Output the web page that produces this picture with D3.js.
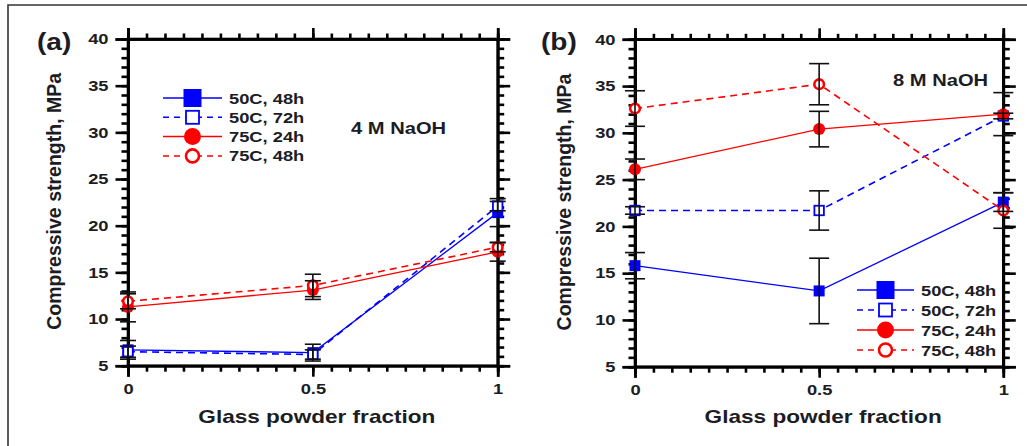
<!DOCTYPE html>
<html lang="en">
<head>
    <meta charset="UTF-8">
    <title>Compressive strength vs glass powder fraction</title>
    <style>
        body { margin: 0; background: #fff; }
        svg { display: block; }
        text { font-family: "Liberation Sans", Arial, sans-serif; font-weight: bold; fill: #1c1c24; }
        .axis path, .axis line { stroke: #000; stroke-width: 2.6; }
    </style>
</head>
<body>
    <svg id="chart" width="1027" height="446"></svg>

    <script src="https://d3js.org/d3.v7.min.js"></script>
    <script>
        // x values shared by all series
        const glassFraction = [0, 0.5, 1];
        const seriesNames = ["50C, 48h", "50C, 72h", "75C, 24h", "75C, 48h"];
        const yTickValues = [5, 10, 15, 20, 25, 30, 35, 40];
        const xTickValues = [0, 0.5, 1];

        // panel (a): 4 M NaOH
        const a_50C_48h = [6.7, 6.4, 21.4];
        const a_50C_72h = [6.5, 6.2, 22.1];
        const a_75C_24h = [11.3, 13.1, 17.2];
        const a_75C_48h = [11.9, 13.6, 17.7];
        const a_50C_48h_err = [1.0, 0.9, 1.5];
        const a_50C_72h_err = [0.6, 0.5, 0.5];
        const a_75C_24h_err = [1.6, 1.0, 1.0];
        const a_75C_48h_err = [0.8, 1.2, 0.5];

        // panel (b): 8 M NaOH
        const b_50C_48h = [15.8, 13.1, 22.6];
        const b_50C_72h = [21.7, 21.7, 31.8];
        const b_75C_24h = [26.1, 30.4, 32.0];
        const b_75C_48h = [32.6, 35.2, 21.7];
        const b_50C_48h_err = [1.4, 3.5, 1.0];
        const b_50C_72h_err = [0.4, 2.1, 0.3];
        const b_75C_24h_err = [1.1, 1.9, 2.3];
        const b_75C_48h_err = [1.9, 2.2, 1.9];

        const svg = d3.select("#chart");

        // outer frame (only left and top edges are inside the picture)
        svg.append("path")
            .attr("d", "M8,446 L8,5 L1027,5")
            .attr("fill", "none")
            .attr("stroke", "#333")
            .attr("stroke-width", 1.6);

        // style per series: colour, dashed, marker kind
        const styles = [
            { color: "#0000ff", dash: null, marker: "square", filled: true },
            { color: "#0000ff", dash: "7,5", marker: "square", filled: false },
            { color: "#ff0000", dash: null, marker: "circle", filled: true },
            { color: "#ff0000", dash: "7,5", marker: "circle", filled: false }
        ];

        function drawMarker(g, style, cx, cy, big) {
            if (style.marker === "square") {
                const s = style.filled ? (big ? 18 : 11) : (big ? 13 : 9.5);
                g.append("rect")
                    .attr("x", cx - s / 2).attr("y", cy - s / 2)
                    .attr("width", s).attr("height", s)
                    .attr("fill", style.filled ? style.color : "#fff")
                    .attr("stroke", style.color)
                    .attr("stroke-width", style.filled ? 0 : 1.8);
            } else {
                const r = style.filled ? (big ? 8.5 : 6) : (big ? 6.5 : 4.8);
                g.append("circle")
                    .attr("cx", cx).attr("cy", cy).attr("r", r)
                    .attr("fill", style.filled ? style.color : "#fff")
                    .attr("stroke", style.color)
                    .attr("stroke-width", style.filled ? 0 : 2.6);
            }
        }

        function drawPanel(p) {
            const g = svg.append("g").attr("transform", `translate(${p.left},${p.top})`);
            const x = d3.scaleLinear().domain([0, 1]).range([0, p.width]);
            const y = d3.scaleLinear().domain([5, 40]).range([p.height, 0]);
            const minorX = d3.range(0, 1.0001, 0.05);
            const minorY = d3.range(5, 40.001, 1);

            // minor ticks first, then major ticks with labels
            g.append("g").attr("class", "axis").call(d3.axisLeft(y).tickValues(minorY).tickSize(6.5).tickFormat(""));
            g.append("g").attr("class", "axis").attr("transform", `translate(${p.width},0)`)
                .call(d3.axisRight(y).tickValues(minorY).tickSize(6.5).tickFormat(""));
            g.append("g").attr("class", "axis").call(d3.axisTop(x).tickValues(minorX).tickSize(5.5).tickFormat(""));
            g.append("g").attr("class", "axis").attr("transform", `translate(0,${p.height})`)
                .call(d3.axisBottom(x).tickValues(minorX).tickSize(6).tickFormat(""));

            g.append("g").attr("class", "axis y-major")
                .call(d3.axisLeft(y).tickValues(yTickValues).tickSize(12.5).tickPadding(7).tickFormat(d3.format("d")));
            g.append("g").attr("class", "axis").attr("transform", `translate(${p.width},0)`)
                .call(d3.axisRight(y).tickValues(yTickValues).tickSize(12.5).tickFormat(""));
            g.append("g").attr("class", "axis").call(d3.axisTop(x).tickValues(xTickValues).tickSize(11).tickFormat(""));
            g.append("g").attr("class", "axis x-major").attr("transform", `translate(0,${p.height})`)
                .call(d3.axisBottom(x).tickValues(xTickValues).tickSize(11).tickPadding(7).tickFormat(d3.format("")));

            // frame of the plot area
            g.append("rect").attr("width", p.width).attr("height", p.height)
                .attr("fill", "none").attr("stroke", "#000").attr("stroke-width", 2.6);

            g.selectAll(".axis text").attr("font-size", 15).attr("fill", "#1c1c24")
                .attr("font-family", "Liberation Sans, Arial, sans-serif").classed("stretch", true);

            const line = d3.line().x((d, i) => x(glassFraction[i])).y(d => y(d));

            p.series.forEach((vals, k) => {
                const st = styles[k];
                g.append("path").datum(vals)
                    .attr("d", line)
                    .attr("fill", "none")
                    .attr("stroke", st.color)
                    .attr("stroke-width", st.dash ? 1.6 : 1.3)
                    .attr("stroke-dasharray", st.dash);
            });

            p.series.forEach((vals, k) => {
                vals.forEach((v, i) => drawMarker(g, styles[k], x(glassFraction[i]), y(v), false));
            });

            // error bars on top
            p.series.forEach((vals, k) => {
                vals.forEach((v, i) => {
                    const e = p.errors[k][i];
                    const cx = x(glassFraction[i]);
                    const y0 = y(v - e), y1 = y(v + e);
                    const eb = g.append("g").attr("stroke", "#111").attr("stroke-width", 1.6);
                    eb.append("line").attr("x1", cx).attr("x2", cx).attr("y1", y0).attr("y2", y1);
                    eb.append("line").attr("x1", cx - p.cap).attr("x2", cx + p.cap).attr("y1", y0).attr("y2", y0);
                    eb.append("line").attr("x1", cx - p.cap).attr("x2", cx + p.cap).attr("y1", y1).attr("y2", y1);
                });
            });

            // axis titles
            g.append("text").attr("class", "stretch")
                .attr("x", p.width / 2 + p.xTitleShift).attr("y", 423 - p.top)
                .attr("text-anchor", "middle").attr("font-size", 18.5)
                .text("Glass powder fraction");
            g.append("text")
                .attr("transform", `translate(${p.yTitleX - p.left},${p.height / 2 - 1}) rotate(-90)`)
                .attr("text-anchor", "middle").attr("font-size", 19.5)
                .text("Compressive strength, MPa");

            // panel label and solution
            svg.append("text").attr("class", "stretch")
                .attr("x", p.labelX).attr("y", 50).attr("font-size", 23).text(p.label);
            svg.append("text").attr("class", "stretch")
                .attr("x", p.noteX).attr("y", p.noteY).attr("font-size", 16.5).text(p.note);

            // legend
            const lg = svg.append("g");
            seriesNames.forEach((name, k) => {
                const st = styles[k];
                const ly = p.legY + k * p.legStep;
                lg.append("line")
                    .attr("x1", p.legX1).attr("x2", p.legX2).attr("y1", ly).attr("y2", ly)
                    .attr("stroke", st.color).attr("stroke-width", 1.5)
                    .attr("stroke-dasharray", st.dash ? "6,5" : null);
                drawMarker(lg, st, (p.legX1 + p.legX2) / 2, ly, true);
                lg.append("text").attr("class", "stretch")
                    .attr("x", p.legX2 + 7).attr("y", ly + 5.5)
                    .attr("font-size", 15).text(name);
            });
        }

        drawPanel({
            left: 128, top: 39, width: 369.7, height: 326.7,
            series: [a_50C_48h, a_50C_72h, a_75C_24h, a_75C_48h],
            errors: [a_50C_48h_err, a_50C_72h_err, a_75C_24h_err, a_75C_48h_err],
            cap: 8, xTitleShift: 4, yTitleX: 61,
            label: "(a)", labelX: 37, note: "4 M NaOH", noteX: 351, noteY: 134,
            legX1: 163, legX2: 222, legY: 98, legStep: 19.3
        });

        drawPanel({
            left: 635, top: 39.3, width: 368.3, height: 327.4,
            series: [b_50C_48h, b_50C_72h, b_75C_24h, b_75C_48h],
            errors: [b_50C_48h_err, b_50C_72h_err, b_75C_24h_err, b_75C_48h_err],
            cap: 10, xTitleShift: 4, yTitleX: 571,
            label: "(b)", labelX: 541, note: "8 M NaOH", noteX: 893, noteY: 86,
            legX1: 857, legX2: 914, legY: 290, legStep: 20
        });

        // the source picture is a little wider than tall: stretch horizontal texts
        svg.selectAll("text.stretch").each(function () {
            const w = this.getComputedTextLength();
            d3.select(this).attr("textLength", w * 1.22).attr("lengthAdjust", "spacingAndGlyphs");
        });
    </script>
</body>
</html>
